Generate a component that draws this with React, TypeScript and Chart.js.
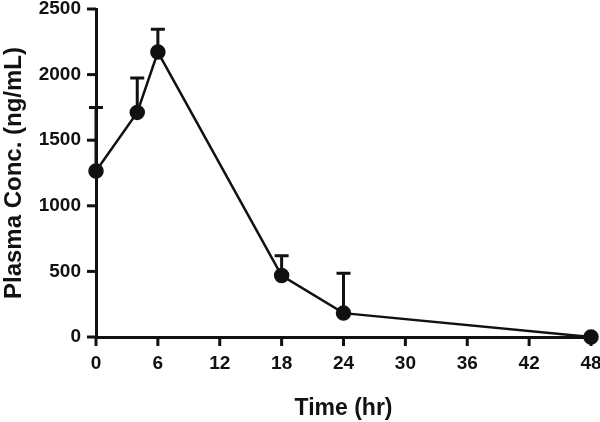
import React, { useEffect, useRef } from "react";
import { Chart, registerables } from "chart.js";

Chart.register(...registerables);

const times = [0, 4, 6, 18, 24, 48];
const means = [1265, 1712, 2172, 468, 182, 0];
const upperSd = [485, 263, 173, 152, 303, 0];
const xTicks = [0, 6, 12, 18, 24, 30, 36, 42, 48];
const yTicks = [0, 500, 1000, 1500, 2000, 2500];

const FONT = "Arial, 'Liberation Sans', Helvetica, sans-serif";
const INK = "#111";
const TICK_LEN = 9;

const axisMarks = {
  id: "axisMarks",
  afterDraw(chart: any) {
    const { ctx, scales } = chart;
    const xs = scales.x;
    const ys = scales.y;
    ctx.save();
    ctx.strokeStyle = INK;
    ctx.lineWidth = 3;
    ctx.lineCap = "butt";
    const xBase = ys.getPixelForValue(0);
    for (const v of xTicks) {
      const x = xs.getPixelForValue(v);
      ctx.beginPath();
      ctx.moveTo(x, xBase);
      ctx.lineTo(x, xBase + TICK_LEN);
      ctx.stroke();
    }
    const yBase = xs.getPixelForValue(0);
    for (const v of yTicks) {
      const y = ys.getPixelForValue(v);
      ctx.beginPath();
      ctx.moveTo(yBase, y);
      ctx.lineTo(yBase - TICK_LEN, y);
      ctx.stroke();
    }
    ctx.restore();
  },
  beforeDatasetsDraw(chart: any) {
    const { ctx, scales } = chart;
    const xs = scales.x;
    const ys = scales.y;
    ctx.save();
    ctx.strokeStyle = INK;
    ctx.lineWidth = 3;
    ctx.lineCap = "butt";
    times.forEach((t, i) => {
      if (!upperSd[i]) return;
      const x = xs.getPixelForValue(t);
      const y0 = ys.getPixelForValue(means[i]);
      const y1 = ys.getPixelForValue(means[i] + upperSd[i]);
      ctx.beginPath();
      ctx.moveTo(x, y0);
      ctx.lineTo(x, y1);
      ctx.moveTo(x - 7, y1);
      ctx.lineTo(x + 7, y1);
      ctx.stroke();
    });
    ctx.restore();
  },
};

export default function App() {
  const ref = useRef<HTMLCanvasElement | null>(null);
  useEffect(() => {
    if (!ref.current) return;
    const chart = new Chart(ref.current, {
      type: "line",
      data: {
        datasets: [
          {
            data: times.map((t, i) => ({ x: t, y: means[i] })),
            borderColor: INK,
            backgroundColor: INK,
            borderWidth: 2.5,
            pointRadius: 6.5,
            pointBackgroundColor: INK,
            pointBorderColor: INK,
            tension: 0,
            clip: false as any,
          },
        ],
      },
      plugins: [axisMarks],
      options: {
        animation: false,
        responsive: false,
        maintainAspectRatio: false,
        layout: { padding: { top: 8, right: 9, left: 0, bottom: 0 } },
        plugins: { legend: { display: false }, tooltip: { enabled: false } },
        scales: {
          x: {
            type: "linear",
            min: 0,
            max: 48,
            afterBuildTicks: (s: any) => {
              s.ticks = xTicks.map((v) => ({ value: v }));
            },
            afterFit: (s: any) => {
              s.height = 85;
              s.paddingLeft = 0;
              s.paddingRight = 0;
            },
            ticks: {
              color: INK,
              font: { family: FONT, size: 19, weight: "bold" },
              padding: 15,
              maxRotation: 0,
              autoSkip: false,
              callback: (v: any) => String(v),
            },
            grid: { display: false, drawTicks: false, tickLength: 0 },
            border: { display: true, color: INK, width: 3 },
            title: {
              display: true,
              text: "Time (hr)",
              color: INK,
              font: { family: FONT, size: 23, weight: "bold" },
              padding: 0,
            },
          },
          y: {
            type: "linear",
            min: 0,
            max: 2500,
            afterBuildTicks: (s: any) => {
              s.ticks = yTicks.map((v) => ({ value: v }));
            },
            afterFit: (s: any) => {
              s.width = 96;
              s.paddingTop = 0;
              s.paddingBottom = 0;
            },
            ticks: {
              color: INK,
              font: { family: FONT, size: 19, weight: "bold" },
              padding: 15,
              autoSkip: false,
              callback: (v: any) => String(v),
            },
            grid: { display: false, drawTicks: false, tickLength: 0 },
            border: { display: true, color: INK, width: 3 },
            title: {
              display: true,
              text: "Plasma Conc. (ng/mL)",
              color: INK,
              font: { family: FONT, size: 24, weight: "bold" },
              padding: 0,
            },
          },
        },
      } as any,
    });
    return () => chart.destroy();
  }, []);
  return (
    <div style={{ position: "fixed", left: 0, top: 0, width: 600, height: 422, background: "#fff" }}>
      <canvas ref={ref} width={600} height={422} style={{ display: "block" }} />
    </div>
  );
}
